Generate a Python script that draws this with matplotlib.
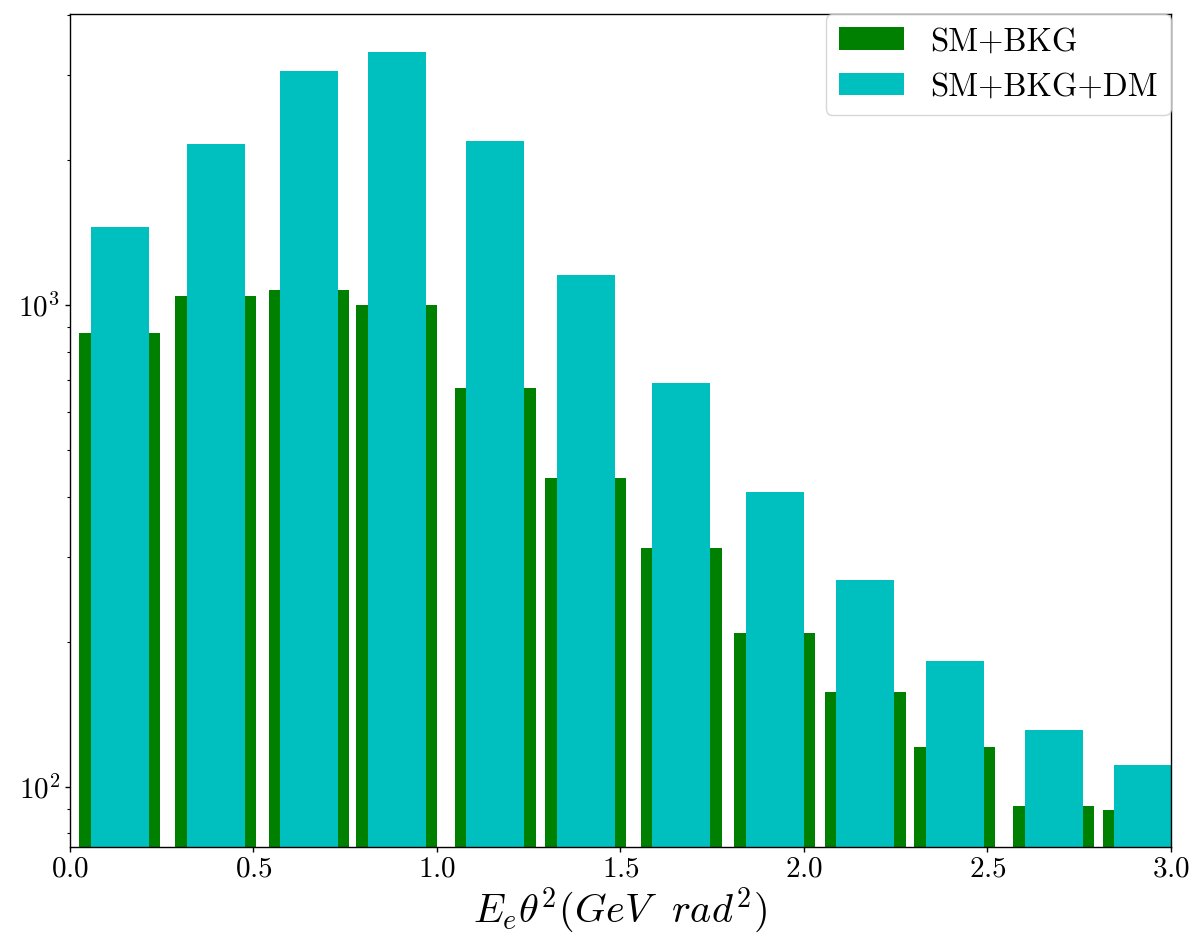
import matplotlib
matplotlib.use("Agg")
import matplotlib.pyplot as plt

# Data (bin centres on the x axis, counts on a log y axis)
bin_centres = [0.135, 0.397, 0.651, 0.890, 1.159, 1.405, 1.666, 1.920, 2.167, 2.411, 2.680, 2.925]
sm_bkg = [873, 1044, 1074, 1000, 671, 438, 313, 209, 157, 121, 91.3, 89.5]
sm_bkg_dm = [1452, 2159, 3056, 3346, 2194, 1154, 688, 409, 268, 182, 131, 111]
labels = ["SM+BKG", "SM+BKG+DM"]

plt.rcParams["font.family"] = ["cmr10", "DejaVu Serif"]
plt.rcParams["mathtext.fontset"] = "cm"
plt.rcParams["axes.formatter.use_mathtext"] = True
plt.rcParams["axes.linewidth"] = 1.0
plt.rcParams["xtick.major.width"] = 1.0
plt.rcParams["ytick.major.width"] = 1.0
plt.rcParams["ytick.minor.width"] = 0.8

fig = plt.figure(figsize=(11.94, 9.46), dpi=100)
ax = fig.add_axes([0.0586, 0.105, 0.9221, 0.8802])

ax.bar(bin_centres, sm_bkg, width=0.22, color="g", label=labels[0])
ax.bar(bin_centres, sm_bkg_dm, width=0.158, color="c", label=labels[1])

ax.set_yscale("log")
ax.set_xlim(0, 3.0)
ax.set_ylim(75.1, 4018)

ax.tick_params(axis="both", which="major", labelsize=21)
ax.set_xlabel(r"$E_e\theta^2(GeV\ \ rad^2)$", fontsize=29, labelpad=2)

ax.legend(loc="upper right", fontsize=23.5, borderaxespad=0.0)

fig.savefig("out.png", dpi=100)
